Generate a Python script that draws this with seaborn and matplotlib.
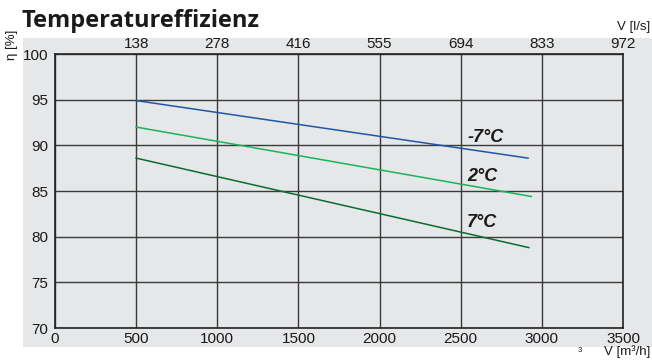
import matplotlib
matplotlib.use("Agg")
import matplotlib.pyplot as plt
import seaborn as sns
import pandas as pd

# Airflow (m³/h) and temperature efficiency (%) per outdoor temperature
airflow_start = [500, 500, 500]
airflow_end = [2915, 2935, 2920]
series = ["-7°C", "2°C", "7°C"]
eff_start = [94.9, 92.0, 88.6]
eff_end = [88.6, 84.4, 78.8]
label_y = [90.9, 86.6, 81.5]
colors = ["#1f57a8", "#19b45a", "#0b6b35"]

x_ticks = [0, 500, 1000, 1500, 2000, 2500, 3000, 3500]
top_labels = ["", "138", "278", "416", "555", "694", "833", "972"]
y_ticks = [70, 75, 80, 85, 90, 95, 100]

rows = []
for name, x0, x1, y0, y1 in zip(series, airflow_start, airflow_end, eff_start, eff_end):
    rows.append({"flow": x0, "eff": y0, "temp": name})
    rows.append({"flow": x1, "eff": y1, "temp": name})
df = pd.DataFrame(rows)

bg = "#e6e7e9"
grid_c = "#3a3a3a"
txt_c = "#1a1a1a"

fig = plt.figure(figsize=(6.52, 3.6), dpi=100)
fig.patch.set_facecolor("white")

# grey panel behind the chart
panel = fig.add_axes([23 / 652, 1 - 347 / 360, 1 - 23 / 652, (347 - 38) / 360])
panel.set_facecolor(bg)
panel.set_xticks([])
panel.set_yticks([])
for s in panel.spines.values():
    s.set_visible(False)
panel.set_zorder(0)

ax = fig.add_axes([55 / 652, 1 - 328 / 360, (623 - 55) / 652, (328 - 54) / 360])
ax.set_zorder(1)
ax.set_facecolor(bg)

sns.lineplot(data=df, x="flow", y="eff", hue="temp", palette=colors, hue_order=series,
             linewidth=1.1, legend=False, ax=ax, zorder=3)

ax.set_xlim(0, 3500)
ax.set_ylim(70, 100)
ax.set_xticks(x_ticks)
ax.set_yticks(y_ticks)
ax.grid(True, color=grid_c, linewidth=1.0, zorder=1)
ax.set_axisbelow(True)
for s in ax.spines.values():
    s.set_color("#222222")
    s.set_linewidth(1.2)

tick_font = dict(family="Liberation Sans", size=11)
ax.set_xticklabels([str(t) for t in x_ticks], **tick_font, color=txt_c)
ax.set_yticklabels([str(t) for t in y_ticks], **tick_font, color=txt_c)
ax.tick_params(axis="x", length=0, pad=3)
ax.tick_params(axis="y", length=0, pad=5)
ax.set_xlabel("")
ax.set_ylabel("")

top = ax.secondary_xaxis("top")
top.set_xticks(x_ticks)
top.set_xticklabels(top_labels, **tick_font, color=txt_c)
top.tick_params(length=0, pad=2)
top.spines["top"].set_visible(False)

for name, y in zip(series, label_y):
    ax.text(2540, y, name, fontsize=13, fontweight="bold", style="italic",
            family="Liberation Sans", color=txt_c, va="center", ha="left", zorder=4)

fig.text(22 / 652, 1 - 26.7 / 360, "Temperatureffizienz", fontsize=17, fontweight="bold",
         family="Open Sans", color=txt_c, va="baseline", ha="left")
fig.text(650 / 652, 1 - 27 / 360, "V [l/s]", fontsize=9.5, family="Liberation Sans",
         color=txt_c, va="center", ha="right")
fig.text(650 / 652, 1 - 352 / 360, "V [m³/h]", fontsize=9.5, family="Liberation Sans",
         color=txt_c, va="center", ha="right")
fig.text(580 / 652, 1 - 350 / 360, "3", fontsize=5.5, family="Liberation Sans",
         color=txt_c, va="center", ha="center")
fig.text(12 / 652, 1 - 45 / 360, "η [%]", fontsize=9.5, family="Liberation Sans",
         color=txt_c, va="center", ha="center", rotation=90)

fig.savefig("out.png", dpi=100, facecolor=fig.get_facecolor())
